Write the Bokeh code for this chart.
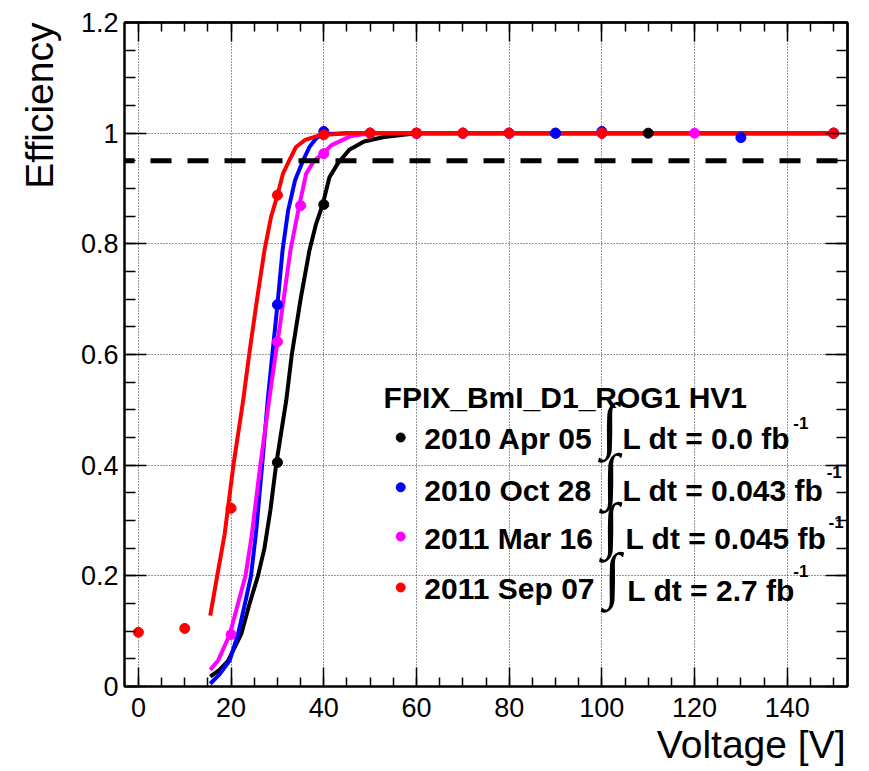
from bokeh.plotting import figure
from bokeh.models import (FixedTicker, LinearAxis, Label, Span, Title,
                          CustomJSTickFormatter)
from bokeh.embed import file_html
from bokeh.resources import INLINE

# ---------------- data ----------------
# measured efficiency points
BLK_V = [30, 40, 50, 60, 70, 80, 90, 100, 110, 150]
BLK_E = [0.405, 0.871, 1.0, 1.0, 1.0, 1.0, 1.0, 1.0, 1.0, 1.0]
BLU_V = [30, 40, 50, 60, 70, 80, 90, 100, 130, 150]
BLU_E = [0.690, 1.003, 1.0, 1.0, 1.0, 1.0, 1.0, 1.003, 0.992, 1.0]
MAG_V = [20, 30, 35, 40, 50, 60, 70, 80, 100, 120, 150]
MAG_E = [0.094, 0.623, 0.869, 0.963, 1.0, 1.0, 1.0, 1.0, 1.0, 1.0, 1.0]
RED_V = [0, 10, 20, 30, 40, 50, 60, 70, 80, 100, 150]
RED_E = [0.098, 0.105, 0.322, 0.888, 0.997, 1.0, 1.0, 1.0, 1.0, 1.0, 1.0]

# fitted curves
BLK_FIT_V = [15.5, 17.5, 19.4, 22.2, 24.0, 25.8, 27.2, 28.5, 29.7, 31.9, 33.1,
             35.0, 36.9, 38.3, 39.8, 41.2, 43.0, 45.5, 48.7, 53.0, 60.0, 150.0]
BLK_FIT_E = [0.018, 0.030, 0.047, 0.095, 0.150, 0.200, 0.250, 0.320, 0.400,
             0.517, 0.600, 0.700, 0.788, 0.835, 0.872, 0.920, 0.945, 0.970,
             0.985, 0.993, 1.0, 1.0]
BLU_FIT_V = [15.5, 17.5, 19.7, 21.5, 23.0, 24.3, 25.4, 26.7, 27.9, 28.9, 30.0,
             31.1, 32.3, 33.8, 35.5, 36.9, 38.5, 40.0, 45.0, 150.0]
BLU_FIT_E = [0.005, 0.022, 0.047, 0.095, 0.150, 0.200, 0.280, 0.400, 0.517,
             0.600, 0.690, 0.788, 0.860, 0.915, 0.950, 0.975, 0.992, 0.998,
             1.0, 1.0]
MAG_FIT_V = [15.5, 17.2, 19.7, 21.5, 23.1, 24.4, 26.3, 28.2, 29.6, 30.5, 32.8,
             34.7, 36.2, 37.9, 39.8, 41.6, 45.9, 50.0, 150.0]
MAG_FIT_E = [0.030, 0.047, 0.094, 0.150, 0.200, 0.270, 0.400, 0.517, 0.600,
             0.650, 0.788, 0.869, 0.927, 0.950, 0.963, 0.978, 0.995, 1.0, 1.0]
RED_FIT_V = [15.5, 17.0, 18.6, 20.5, 22.6, 23.9, 25.6, 27.2, 28.6, 30.0,
             31.2, 32.5, 34.0, 36.0, 39.0, 45.0, 150.0]
RED_FIT_E = [0.128, 0.200, 0.275, 0.400, 0.517, 0.600, 0.700, 0.788,
             0.848, 0.888, 0.927, 0.950, 0.975, 0.988, 0.996, 1.0, 1.0]

THRESHOLD = 0.95

X_TICKS = [0, 20, 40, 60, 80, 100, 120, 140]
X_MINOR = list(range(0, 155, 5))
Y_TICKS = [0, 0.2, 0.4, 0.6, 0.8, 1.0, 1.2]
Y_MINOR = [i * 0.05 for i in range(0, 25)]

X_TITLE = "Voltage [V]"
Y_TITLE = "Efficiency"
HEADER = "FPIX_BmI_D1_ROG1 HV1"
DATES = ["2010 Apr 05", "2010 Oct 28", "2011 Mar 16", "2011 Sep 07"]
LUMIS = ["0.0", "0.043", "0.045", "2.7"]
COLORS = ["#000000", "#0000ff", "#ff00ff", "#ff0000"]

# legend layout (data coordinates)
LEG_MARK_X = 56.6
LEG_MARK_Y = [0.450, 0.360, 0.271, 0.179]
LEG_TEXT_X = 61.7
LEG_TEXT_Y = [0.448, 0.354, 0.2675, 0.177]
LEG_HEAD = (52.9, 0.522)
INT_X = [101.7, 101.9, 101.9, 102.3]
INT_Y = [0.473, 0.381, 0.291, 0.202]
LUMI_X = [104.45, 104.45, 105.1, 105.5]
LUMI_Y = [0.448, 0.354, 0.2675, 0.173]
SUP_X = [141.3, 148.5, 148.9, 141.3]
SUP_Y = [0.477, 0.387, 0.298, 0.2096]

FONT = "Liberation Sans"
X0, X1, Y0, Y1 = -3, 153, 0, 1.2

p = figure(width=861, height=771, x_range=(X0, X1), y_range=(Y0, Y1),
           output_backend="svg", toolbar_location=None,
           min_border_left=124, min_border_right=14,
           min_border_top=22, min_border_bottom=85)
p.background_fill_color = "white"
p.border_fill_color = "white"
p.outline_line_color = "black"
p.outline_line_width = 2


def style_axis(ax, ticks, minor, major_len, minor_len, standoff):
    ax.ticker = FixedTicker(ticks=ticks, minor_ticks=minor)
    ax.axis_line_color = "black"
    ax.axis_line_width = 2
    ax.major_tick_in = major_len
    ax.major_tick_out = 0
    ax.minor_tick_in = minor_len
    ax.minor_tick_out = 0
    ax.major_tick_line_width = 1.5
    ax.minor_tick_line_width = 1.5
    ax.major_tick_line_color = "black"
    ax.minor_tick_line_color = "black"
    ax.major_label_text_font = FONT
    ax.major_label_text_font_size = "27px"
    ax.major_label_text_color = "black"
    ax.major_label_standoff = standoff


def mirror_axis(place, ticks, minor, major_len, minor_len):
    # label-free tick marks on the opposite sides of the frame
    for pos, ln in ((ticks, major_len), (minor, minor_len)):
        ax = LinearAxis(ticker=FixedTicker(ticks=[], minor_ticks=pos))
        ax.axis_line_color = "black"
        ax.axis_line_width = 2
        ax.major_tick_in = 0
        ax.major_tick_out = 0
        ax.minor_tick_in = ln
        ax.minor_tick_out = 0
        ax.minor_tick_line_width = 1.5
        ax.minor_tick_line_color = "black"
        ax.major_label_standoff = 0
        p.add_layout(ax, place)


xax, yax = p.xaxis[0], p.yaxis[0]
style_axis(xax, X_TICKS, X_MINOR, 19, 9, 11)
style_axis(yax, Y_TICKS, Y_MINOR, 22, 11, 6)
yax.formatter = CustomJSTickFormatter(
    code="return String(Math.round(tick*10)/10)")
mirror_axis("above", X_TICKS, X_MINOR, 19, 9)
mirror_axis("right", Y_TICKS, Y_MINOR, 22, 11)

# axis titles, ROOT style at the far end of each axis
p.add_layout(Title(text=Y_TITLE, align="right", vertical_align="top",
                   text_font=FONT, text_font_size="39px",
                   text_font_style="normal", text_color="black",
                   standoff=30, offset=0), "left")
p.add_layout(Title(text=X_TITLE, align="right", vertical_align="bottom",
                   text_font=FONT, text_font_size="39px",
                   text_font_style="normal", text_color="black",
                   standoff=2, offset=2), "below")

for g, t in ((p.xgrid[0], X_TICKS), (p.ygrid[0], Y_TICKS)):
    g.ticker = FixedTicker(ticks=t)
    g.grid_line_color = "#333333"
    g.grid_line_dash = "1 2"
    g.grid_line_width = 1

# threshold line
p.add_layout(Span(location=THRESHOLD, dimension="width", line_color="black",
                  line_width=5, line_dash="21 16", line_dash_offset=11))

fits = [(BLK_FIT_V, BLK_FIT_E), (BLU_FIT_V, BLU_FIT_E),
        (MAG_FIT_V, MAG_FIT_E), (RED_FIT_V, RED_FIT_E)]
pts = [(BLK_V, BLK_E), (BLU_V, BLU_E), (MAG_V, MAG_E), (RED_V, RED_E)]

for (fv, fe), c in zip(fits, COLORS):
    p.line(fv, fe, line_color=c, line_width=4, line_join="round")
for (v, e), c in zip(pts, COLORS):
    p.scatter(v, e, size=10, color=c, marker="circle")

# legend
p.add_layout(Label(x=LEG_HEAD[0], y=LEG_HEAD[1], text=HEADER, text_font=FONT,
                   text_font_size="30px", text_font_style="bold",
                   text_baseline="alphabetic", text_color="black"))
p.scatter([LEG_MARK_X] * 4, LEG_MARK_Y, size=9, color=COLORS, marker="circle")
for i in range(4):
    p.add_layout(Label(x=LEG_TEXT_X, y=LEG_TEXT_Y[i], text=DATES[i],
                       text_font=FONT, text_font_size="30px",
                       text_font_style="bold", text_baseline="alphabetic",
                       text_color="black"))
    p.add_layout(Label(x=INT_X[i], y=INT_Y[i], text="\u222b",
                       text_font="Liberation Serif", text_font_size="62px",
                       text_align="center", text_baseline="middle",
                       text_color="black"))
    p.add_layout(Label(x=LUMI_X[i], y=LUMI_Y[i],
                       text="L dt = %s fb" % LUMIS[i],
                       text_font=FONT, text_font_size="30px",
                       text_font_style="bold", text_baseline="alphabetic",
                       text_color="black"))
    p.add_layout(Label(x=SUP_X[i], y=SUP_Y[i], text="-1",
                       text_font=FONT, text_font_size="17px",
                       text_font_style="bold", text_baseline="alphabetic",
                       text_color="black"))

open("out.html", "w").write(file_html(p, INLINE))
